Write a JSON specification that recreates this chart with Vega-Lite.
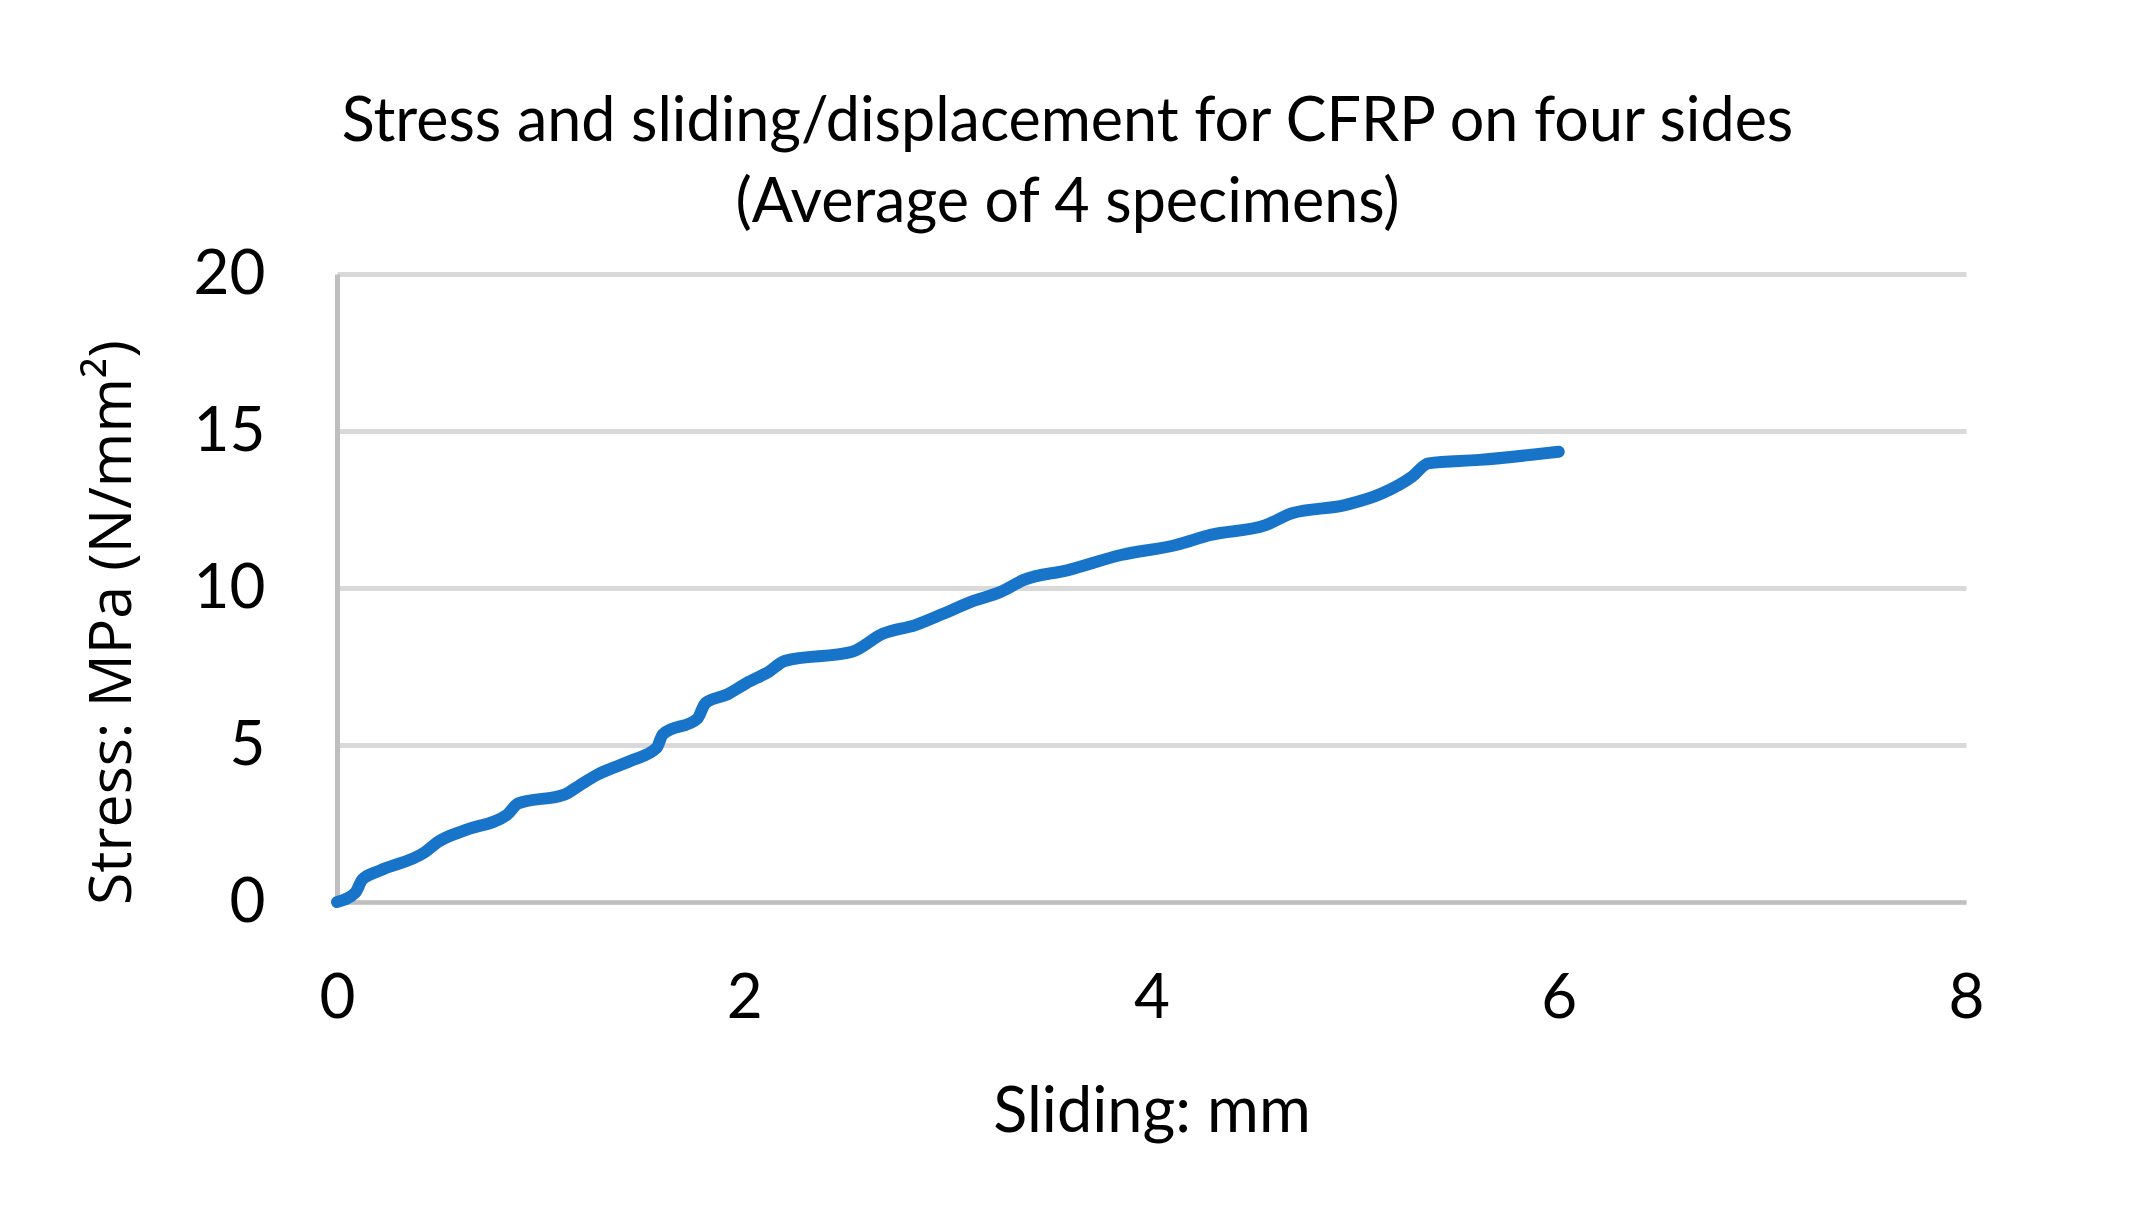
{
  "$schema": "https://vega.github.io/schema/vega-lite/v6.json",
  "width": 1629,
  "height": 628,
  "autosize": {"type": "none"},
  "padding": {"left": 337, "top": 274, "right": 173, "bottom": 324},
  "background": "white",
  "title": {
    "text": ["Stress and sliding/displacement for CFRP on four sides", "(Average of 4 specimens)"],
    "font": "Lato",
    "fontSize": 61,
    "fontWeight": "normal",
    "color": "#000000",
    "anchor": "middle",
    "dx": -84,
    "offset": 8,
    "lineHeight": 81
  },
  "config": {"view": {"stroke": null}},
  "data": {
    "values": [
      {"sliding": 0, "stress": 0},
      {"sliding": 0.09, "stress": 0.3},
      {"sliding": 0.125, "stress": 0.72},
      {"sliding": 0.21, "stress": 1.0},
      {"sliding": 0.43, "stress": 1.58},
      {"sliding": 0.5, "stress": 1.93},
      {"sliding": 0.63, "stress": 2.29},
      {"sliding": 0.835, "stress": 2.78},
      {"sliding": 0.89, "stress": 3.14},
      {"sliding": 1.12, "stress": 3.43},
      {"sliding": 1.19, "stress": 3.71},
      {"sliding": 1.28, "stress": 4.06},
      {"sliding": 1.44, "stress": 4.49},
      {"sliding": 1.57, "stress": 4.91},
      {"sliding": 1.6, "stress": 5.34},
      {"sliding": 1.77, "stress": 5.84},
      {"sliding": 1.81, "stress": 6.34},
      {"sliding": 1.92, "stress": 6.62},
      {"sliding": 2.01, "stress": 6.97},
      {"sliding": 2.12, "stress": 7.33},
      {"sliding": 2.2, "stress": 7.68},
      {"sliding": 2.53, "stress": 7.97},
      {"sliding": 2.68, "stress": 8.54},
      {"sliding": 2.84, "stress": 8.82},
      {"sliding": 2.98, "stress": 9.19},
      {"sliding": 3.11, "stress": 9.55},
      {"sliding": 3.26, "stress": 9.88},
      {"sliding": 3.37, "stress": 10.25},
      {"sliding": 3.59, "stress": 10.57},
      {"sliding": 3.85, "stress": 11.05},
      {"sliding": 4.12, "stress": 11.37},
      {"sliding": 4.29, "stress": 11.69},
      {"sliding": 4.56, "stress": 12.0},
      {"sliding": 4.69, "stress": 12.38},
      {"sliding": 4.95, "stress": 12.64},
      {"sliding": 5.13, "stress": 13.01},
      {"sliding": 5.28, "stress": 13.55},
      {"sliding": 5.36, "stress": 13.97},
      {"sliding": 5.61, "stress": 14.08},
      {"sliding": 6.0, "stress": 14.34}
    ]
  },
  "mark": {"type": "line", "interpolate": "monotone", "color": "#1874C8", "strokeWidth": 12, "strokeCap": "round", "strokeJoin": "round"},
  "encoding": {
    "x": {
      "field": "sliding",
      "type": "quantitative",
      "scale": {"domain": [0, 8], "nice": false, "zero": true},
      "axis": {
        "title": "Sliding: mm",
        "values": [0, 2, 4, 6, 8],
        "grid": false,
        "ticks": false,
        "domainColor": "#bfbfbf",
        "domainWidth": 4,
        "labelFont": "Lato",
        "labelFontSize": 62,
        "labelColor": "#000000",
        "labelPadding": 66,
        "labelFlush": false,
        "titleFont": "Lato",
        "titleFontSize": 63,
        "titleFontWeight": "normal",
        "titleColor": "#000000",
        "titleBaseline": "middle",
        "titleY": 210
      }
    },
    "y": {
      "field": "stress",
      "type": "quantitative",
      "scale": {"domain": [0, 20], "nice": false},
      "axis": {
        "title": "Stress: MPa (N/mm²)",
        "values": [0, 5, 10, 15, 20],
        "grid": true,
        "gridColor": "#d9d9d9",
        "gridWidth": 5,
        "ticks": false,
        "domainColor": "#bfbfbf",
        "domainWidth": 5,
        "labelFont": "Lato",
        "labelFontSize": 62,
        "labelColor": "#000000",
        "labelPadding": 72,
        "labelFlush": false,
        "titleFont": "Open Sans",
        "titleFontSize": 59,
        "titleFontWeight": "normal",
        "titleColor": "#000000",
        "titleAngle": 270,
        "titleAlign": "center",
        "titleBaseline": "middle",
        "titleX": -225,
        "titleY": 348
      }
    }
  }
}
